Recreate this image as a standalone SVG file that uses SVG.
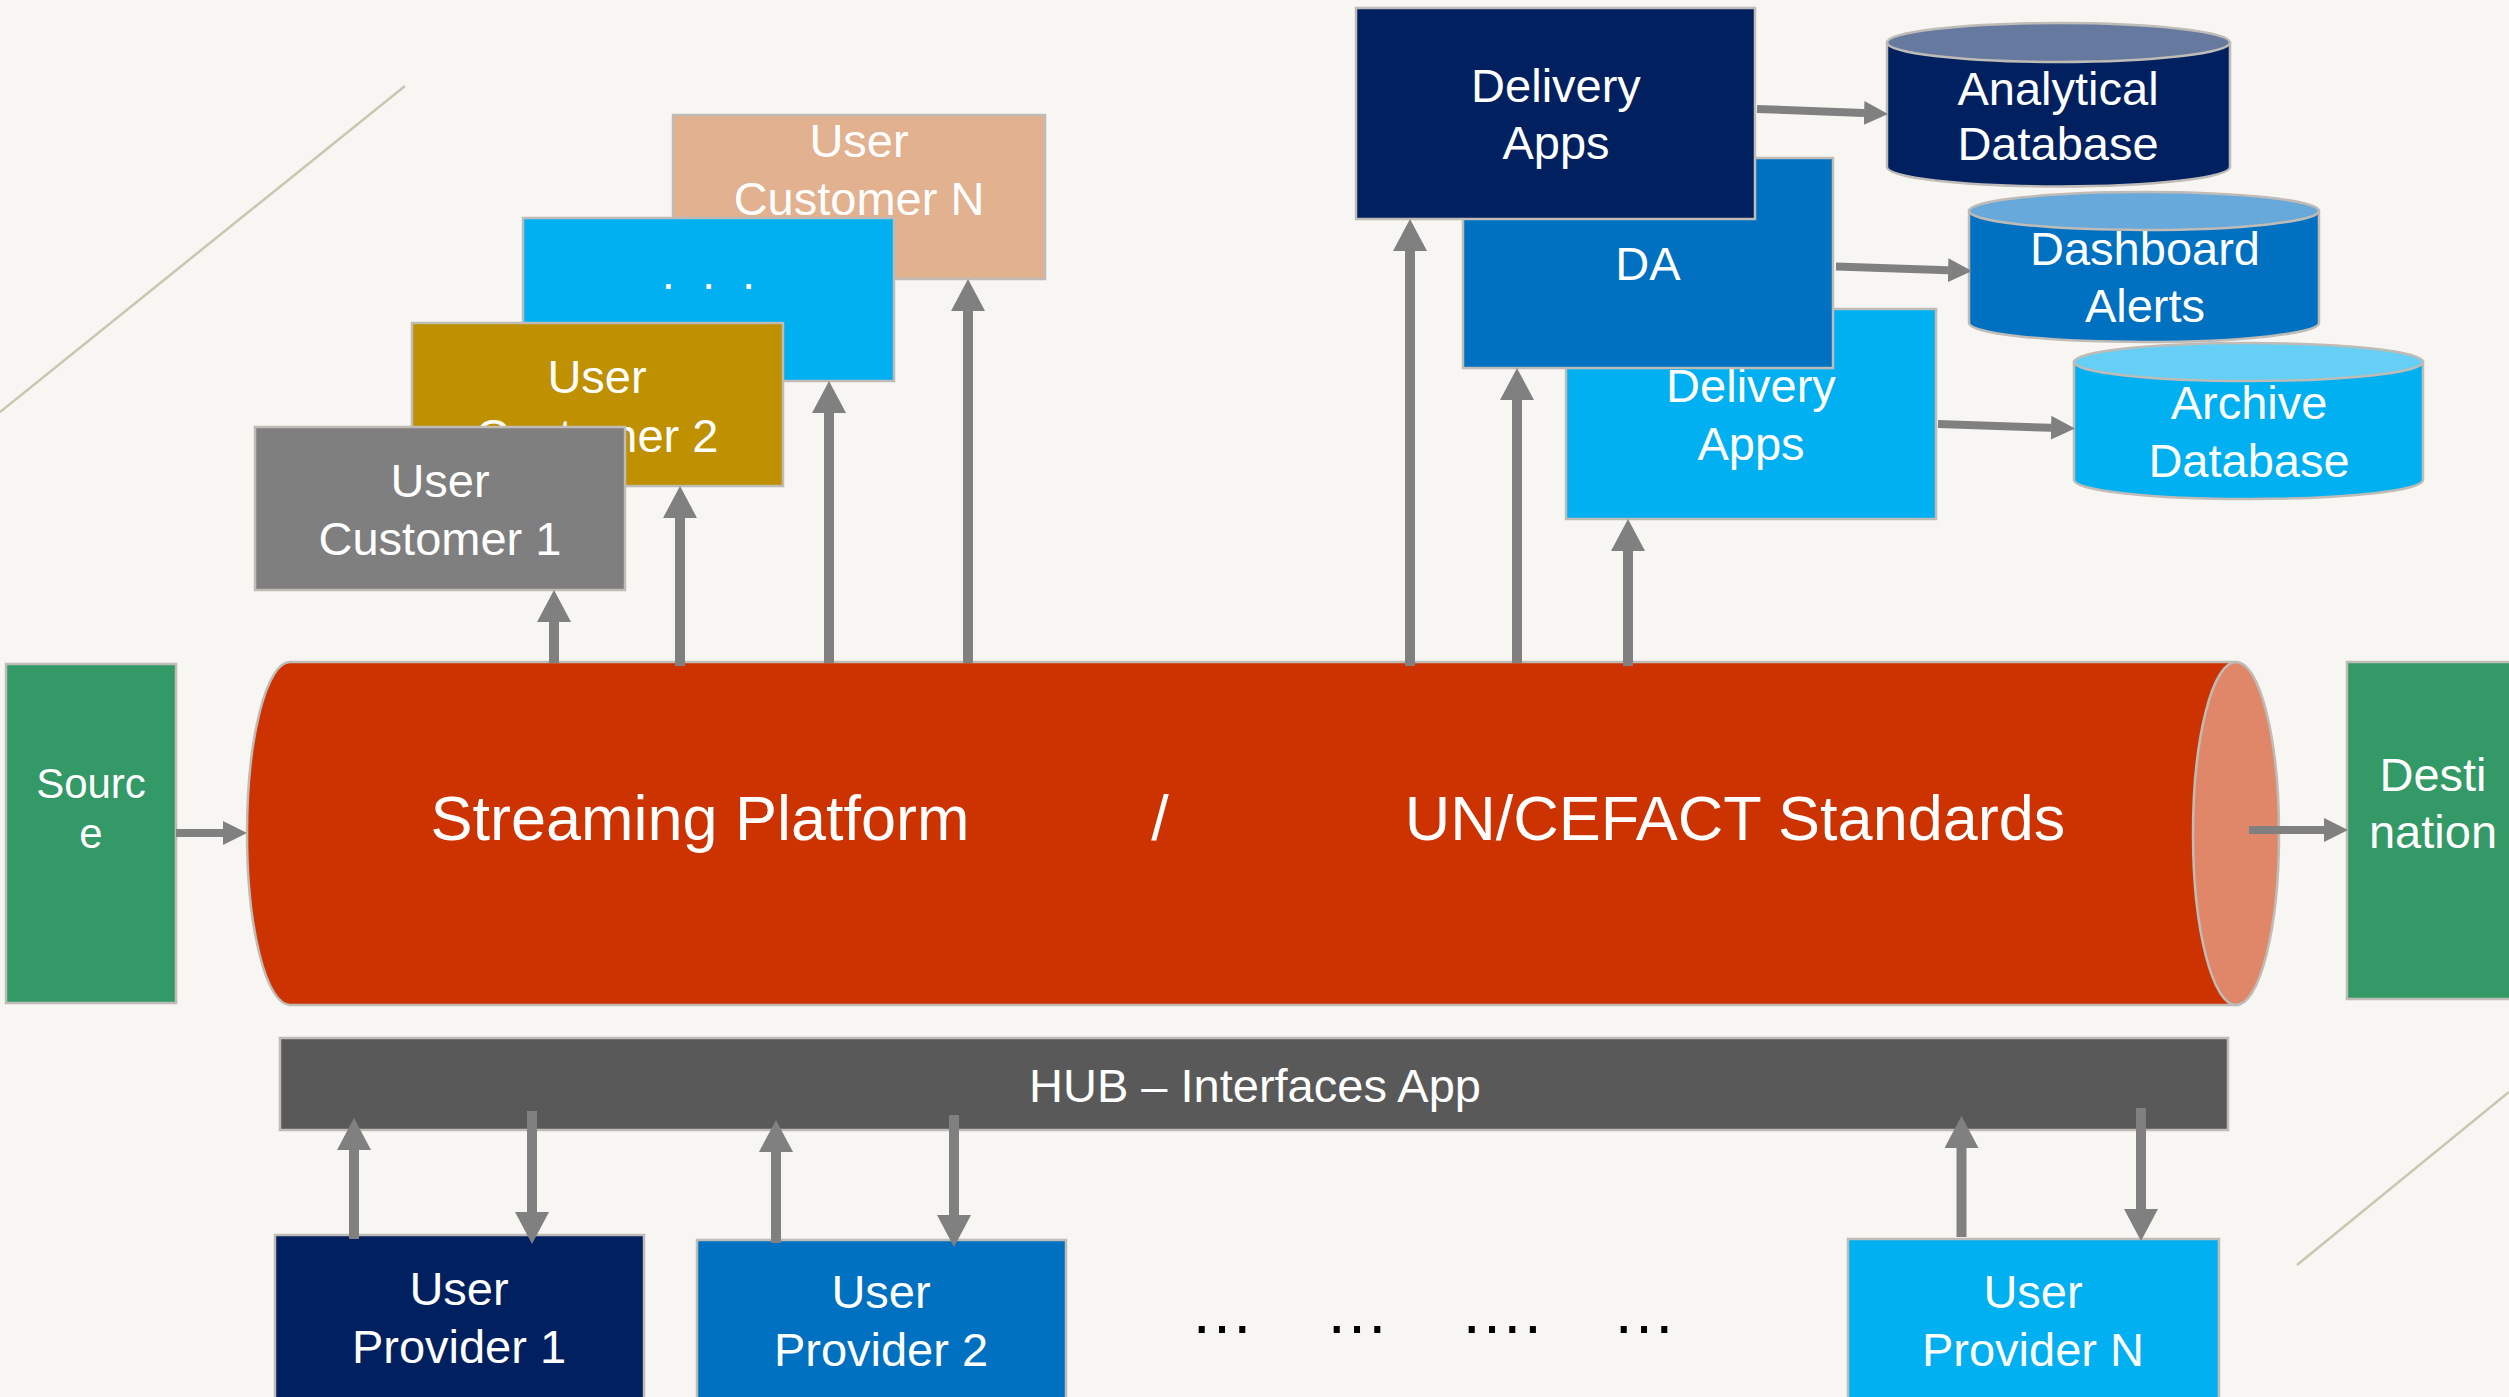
<svg xmlns="http://www.w3.org/2000/svg" width="2509" height="1397" viewBox="0 0 2509 1397">
<style>
text{font-family:"Liberation Sans",Arial,sans-serif;fill:#FFFFFF;text-anchor:middle;}
.t47{font-size:47px;}
.t63{font-size:63px;}
.box{stroke:#BFBBB6;stroke-width:2.5;}
.conv{stroke:#808080;stroke-width:10;fill:none;}
.conh{stroke:#808080;stroke-width:8;fill:none;}
.deco{stroke:#C9C6B1;stroke-width:2.5;fill:none;}
.dots{fill:#000000;font-size:64px;text-anchor:start;}
</style>
<defs>
<marker id="hv" markerUnits="userSpaceOnUse" markerWidth="34" markerHeight="34" refX="0" refY="17" orient="auto" viewBox="0 0 32 34">
<path d="M0,0 L32,17 L0,34 Z" fill="#808080"/>
</marker>
<marker id="hh" markerUnits="userSpaceOnUse" markerWidth="24" markerHeight="24" refX="0" refY="12" orient="auto" viewBox="0 0 24 24">
<path d="M0,0 L24,12 L0,24 Z" fill="#808080"/>
</marker>
</defs>
<rect x="0" y="0" width="2509" height="1397" fill="#F7F6F2"/>
<g id="decor">
<line class="deco" x1="405" y1="86" x2="0" y2="412"/>
<line class="deco" x1="2509" y1="1092" x2="2297" y2="1265"/>
</g>
<g id="customer-n">
<rect class="box" x="673" y="115" width="372" height="164" fill="#E2B18F"/>
<text class="t47" x="859" y="157">User</text>
<text class="t47" x="859" y="215">Customer N</text>
</g>
<g id="customer-dots">
<rect class="box" x="523" y="218" width="371" height="163" fill="#00B0F0"/>
<text class="t47" x="712" y="289" style="letter-spacing:7px">. . .</text>
</g>
<g id="customer-2">
<rect class="box" x="412" y="323" width="371" height="163" fill="#BF9000"/>
<text class="t47" x="597" y="393">User</text>
<text class="t47" x="597" y="452">Customer 2</text>
</g>
<g id="customer-1">
<rect class="box" x="255" y="427" width="370" height="163" fill="#7F7F7F"/>
<text class="t47" x="440" y="497">User</text>
<text class="t47" x="440" y="555">Customer 1</text>
</g>
<g id="delivery-apps-2">
<rect class="box" x="1566" y="309" width="370" height="210" fill="#00B0F0"/>
<text class="t47" x="1751" y="402">Delivery</text>
<text class="t47" x="1751" y="460">Apps</text>
</g>
<g id="da">
<rect class="box" x="1463" y="158" width="370" height="210" fill="#0070C0"/>
<text class="t47" x="1648" y="280">DA</text>
</g>
<g id="delivery-apps-1">
<rect class="box" x="1356" y="8" width="399" height="211" fill="#002060"/>
<text class="t47" x="1556" y="102">Delivery</text>
<text class="t47" x="1556" y="159">Apps</text>
</g>
<g id="analytical-db">
<path class="box" d="M1887,42.5 L1887,167 A171.5,19.5 0 0 0 2230,167 L2230,42.5 Z" fill="#002060"/>
<ellipse class="box" cx="2058.5" cy="42.5" rx="171.5" ry="19.5" fill="#667AA0"/>
<text class="t47" x="2058" y="105">Analytical</text>
<text class="t47" x="2058" y="160">Database</text>
</g>
<g id="dashboard-alerts">
<path class="box" d="M1969,211 L1969,323 A175,19 0 0 0 2319,323 L2319,211 Z" fill="#0070C0"/>
<ellipse class="box" cx="2144" cy="211" rx="175" ry="19" fill="#66A9DA"/>
<text class="t47" x="2145" y="265">Dashboard</text>
<text class="t47" x="2145" y="322">Alerts</text>
</g>
<g id="archive-db">
<path class="box" d="M2074,362 L2074,480 A174.5,19 0 0 0 2423,480 L2423,362 Z" fill="#00B0F0"/>
<ellipse class="box" cx="2248.5" cy="362" rx="174.5" ry="19" fill="#66CFF5"/>
<text class="t47" x="2249" y="419">Archive</text>
<text class="t47" x="2249" y="477">Database</text>
</g>
<g id="source">
<rect class="box" x="6" y="664" width="170" height="339" fill="#339966"/>
<text x="91" y="798" style="font-size:42px">Sourc</text>
<text x="91" y="848" style="font-size:42px">e</text>
</g>
<g id="streaming-platform">
<path class="box" d="M2236,662 L290,662 A43,171.5 0 0 0 290,1005 L2236,1005 Z" fill="#CC3300"/>
<ellipse class="box" cx="2236" cy="833.5" rx="43" ry="171.5" fill="#E0876A"/>
<text class="t63" x="700" y="840">Streaming Platform</text>
<text class="t63" x="1160" y="840">/</text>
<text class="t63" x="1735" y="840">UN/CEFACT Standards</text>
</g>
<g id="destination">
<rect class="box" x="2347" y="662" width="175" height="337" fill="#339966"/>
<text class="t47" x="2433" y="791">Desti</text>
<text class="t47" x="2433" y="848">nation</text>
</g>
<g id="hub">
<rect class="box" x="280" y="1038" width="1948" height="92" fill="#595959"/>
<text class="t47" x="1255" y="1102">HUB – Interfaces App</text>
</g>
<g id="provider-1">
<rect class="box" x="275" y="1235" width="369" height="170" fill="#002060"/>
<text class="t47" x="459" y="1305">User</text>
<text class="t47" x="459" y="1363">Provider 1</text>
</g>
<g id="provider-2">
<rect class="box" x="697" y="1240" width="369" height="165" fill="#0070C0"/>
<text class="t47" x="881" y="1308">User</text>
<text class="t47" x="881" y="1366">Provider 2</text>
</g>
<g id="provider-n">
<rect class="box" x="1848" y="1239" width="371" height="166" fill="#00B0F0"/>
<text class="t47" x="2033" y="1308">User</text>
<text class="t47" x="2033" y="1366">Provider N</text>
</g>
<g id="ellipses">
<text class="dots" x="1190" y="1333">…</text>
<text class="dots" x="1325" y="1333">…</text>
<text class="dots" x="1460" y="1333">….</text>
<text class="dots" x="1612" y="1333">…</text>
</g>
<g id="connectors">
<line class="conv" x1="554" y1="663" x2="554" y2="622" marker-end="url(#hv)"/>
<line class="conv" x1="680" y1="666" x2="680" y2="518" marker-end="url(#hv)"/>
<line class="conv" x1="829" y1="663" x2="829" y2="413" marker-end="url(#hv)"/>
<line class="conv" x1="968" y1="663" x2="968" y2="311" marker-end="url(#hv)"/>
<line class="conv" x1="1410" y1="666" x2="1410" y2="251" marker-end="url(#hv)"/>
<line class="conv" x1="1517" y1="663" x2="1517" y2="400" marker-end="url(#hv)"/>
<line class="conv" x1="1628" y1="666" x2="1628" y2="551" marker-end="url(#hv)"/>
<line class="conv" x1="354" y1="1239" x2="354" y2="1150" marker-end="url(#hv)"/>
<line class="conv" x1="532" y1="1111" x2="532" y2="1212" marker-end="url(#hv)"/>
<line class="conv" x1="776" y1="1243" x2="776" y2="1152" marker-end="url(#hv)"/>
<line class="conv" x1="954" y1="1115" x2="954" y2="1215" marker-end="url(#hv)"/>
<line class="conv" x1="1961.5" y1="1237" x2="1961.5" y2="1148" marker-end="url(#hv)"/>
<line class="conv" x1="2141" y1="1108" x2="2141" y2="1209" marker-end="url(#hv)"/>
<line class="conh" x1="176" y1="833" x2="223" y2="833" marker-end="url(#hh)"/>
<line class="conh" x1="2249" y1="830" x2="2324" y2="830" marker-end="url(#hh)"/>
<line class="conh" x1="1757" y1="109" x2="1864" y2="113" marker-end="url(#hh)"/>
<line class="conh" x1="1836" y1="266.5" x2="1948" y2="270.2" marker-end="url(#hh)"/>
<line class="conh" x1="1938" y1="424" x2="2051" y2="427.8" marker-end="url(#hh)"/>
</g>
</svg>
